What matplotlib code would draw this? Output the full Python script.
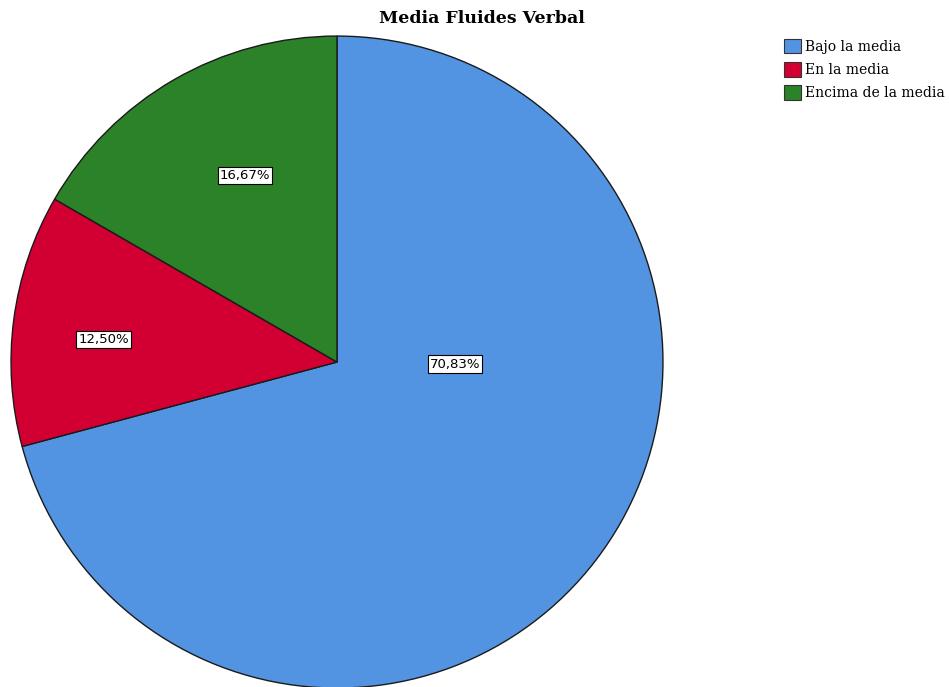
import matplotlib.pyplot as plt
from matplotlib.patches import Patch

# Data.
categories = ['Bajo la media', 'En la media', 'Encima de la media']
percents   = [70.83, 12.50, 16.67]
pct_labels = ['70,83%', '12,50%', '16,67%']
colors     = ['#5294e2', '#d20032', '#2b8228']

# Label positions (in units of the pie radius), as placed by the original.
label_pos = [(0.362, -0.006), (-0.715, 0.068), (-0.282, 0.572)]

# Start figure.
fig = plt.figure(figsize=(9.49, 6.87), dpi=100)
ax  = fig.add_axes([0.0116, -0.0015, 0.687, 0.949])

wedges, _ = ax.pie(percents, colors=colors, startangle=90, counterclock=False,
                   radius=1.0, wedgeprops=dict(edgecolor='#1a1a1a', linewidth=1.0))
ax.set_xlim(-1, 1)
ax.set_ylim(-1, 1)
ax.set_aspect('auto')

for (x, y), txt in zip(label_pos, pct_labels):
  ax.text(x, y, txt, ha='center', va='center', fontsize=9.5, family='DejaVu Sans',
          bbox=dict(facecolor='white', edgecolor='black', linewidth=0.8, pad=1.5))

# Title.
fig.text(0.508, 0.973, 'Media Fluides Verbal', ha='center', va='center',
         fontsize=12.5, fontweight='bold', family='DejaVu Serif')

# Legend.
handles = [Patch(facecolor=c, edgecolor='#333333', linewidth=0.8) for c in colors]
fig.legend(handles, categories, loc='upper left', bbox_to_anchor=(0.826, 0.943),
           frameon=False, prop=dict(family='DejaVu Serif', size=10),
           handlelength=1.2, handleheight=1.2, handletextpad=0.3,
           labelspacing=0.6, borderaxespad=0, borderpad=0)

# Save figure.
fig.savefig('out.png', dpi=100)
plt.close()
